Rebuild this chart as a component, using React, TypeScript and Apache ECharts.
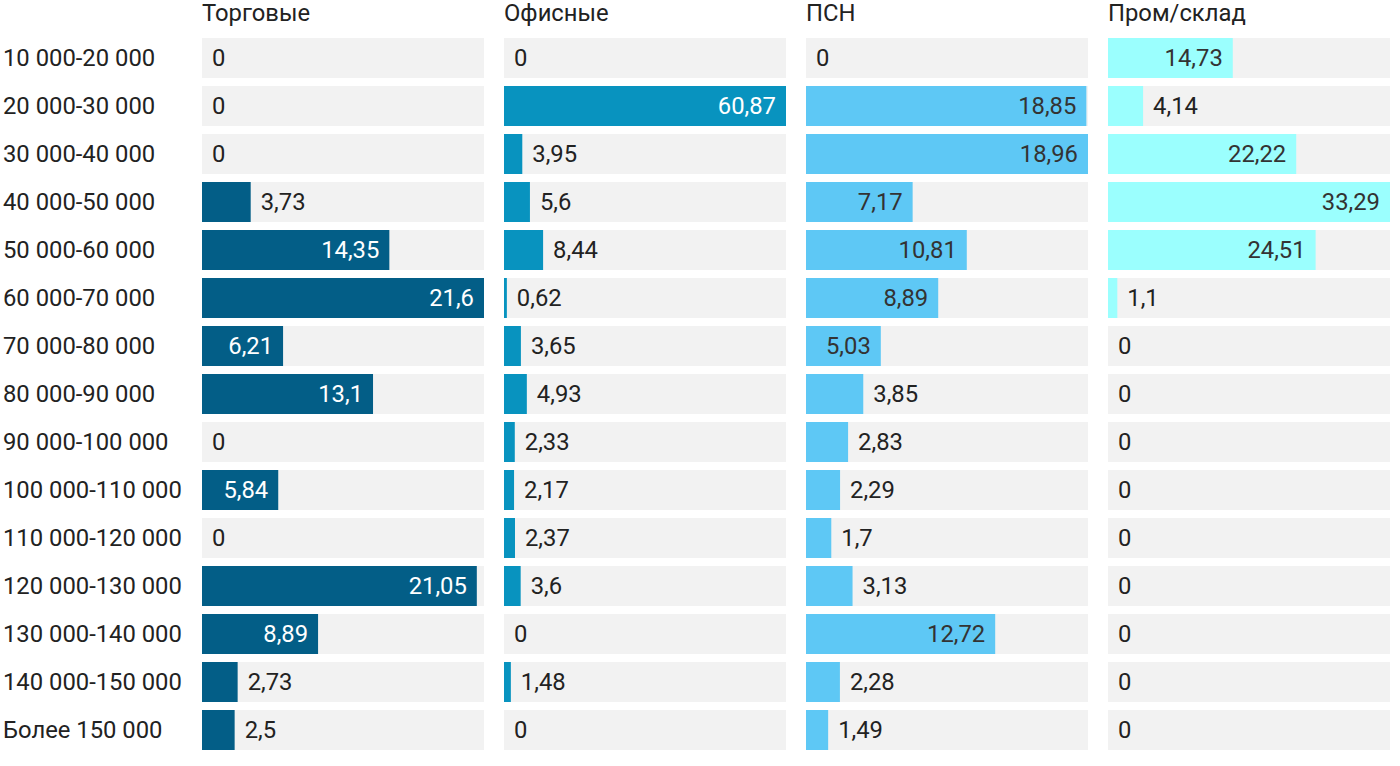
import React, { useEffect, useRef } from "react";
import * as echarts from "echarts";

const categories = [
  "10 000-20 000",
  "20 000-30 000",
  "30 000-40 000",
  "40 000-50 000",
  "50 000-60 000",
  "60 000-70 000",
  "70 000-80 000",
  "80 000-90 000",
  "90 000-100 000",
  "100 000-110 000",
  "110 000-120 000",
  "120 000-130 000",
  "130 000-140 000",
  "140 000-150 000",
  "Более 150 000",
];

const seriesNames = ["Торговые", "Офисные", "ПСН", "Пром/склад"];

const retail = [0, 0, 0, 3.73, 14.35, 21.6, 6.21, 13.1, 0, 5.84, 0, 21.05, 8.89, 2.73, 2.5];
const office = [0, 60.87, 3.95, 5.6, 8.44, 0.62, 3.65, 4.93, 2.33, 2.17, 2.37, 3.6, 0, 1.48, 0];
const psn = [0, 18.85, 18.96, 7.17, 10.81, 8.89, 5.03, 3.85, 2.83, 2.29, 1.7, 3.13, 12.72, 2.28, 1.49];
const industrial = [14.73, 4.14, 22.22, 33.29, 24.51, 1.1, 0, 0, 0, 0, 0, 0, 0, 0, 0];

const seriesValues = [retail, office, psn, industrial];
const colors = ["#035e87", "#0893bf", "#5ec8f5", "#9bfffe"];
const insideLabelColors = ["#ffffff", "#ffffff", "#333333", "#333333"];

const FONT = "Roboto";
const FS = 23.8;
const PANEL_LEFTS = [202, 504, 806, 1108];
const PANEL_W = 282;
const TOP = 34;
const ROW_H = 48;

const fmt = (v: number) => String(v).replace(".", ",");

export default function App() {
  const ref = useRef<HTMLDivElement>(null);
  useEffect(() => {
    if (!ref.current) return;
    const chart = echarts.init(ref.current, null, { renderer: "svg" });
    const height = ROW_H * categories.length;
    const grids = PANEL_LEFTS.map((l) => ({ left: l, top: TOP, width: PANEL_W, height }));
    const xAxes = seriesValues.map((vals, i) => ({
      type: "value",
      gridIndex: i,
      min: 0,
      max: Math.max(...vals),
      show: false,
    }));
    const yAxes = seriesValues.map((_, i) => ({
      type: "category",
      gridIndex: i,
      data: categories,
      inverse: true,
      axisLine: { show: false },
      axisTick: { show: false },
      splitLine: { show: false },
      axisLabel: {
        show: i === 0,
        align: "left",
        margin: 199,
        fontFamily: FONT,
        fontSize: FS,
        color: "#222222",
      },
    }));
    const series = seriesValues.map((vals, i) => {
      const max = Math.max(...vals);
      return {
        type: "bar",
        name: seriesNames[i],
        xAxisIndex: i,
        yAxisIndex: i,
        barWidth: 40,
        showBackground: true,
        backgroundStyle: { color: "#f2f2f2" },
        itemStyle: { color: colors[i] },
        data: vals.map((v) => {
          const px = (v / max) * PANEL_W;
          const inside = px > 65;
          return {
            value: v,
            label: {
              show: true,
              position: inside ? "insideRight" : "right",
              distance: inside ? 10 : 10,
              color: inside ? insideLabelColors[i] : "#222222",
              fontFamily: FONT,
              fontSize: FS,
              formatter: (p: any) => fmt(p.value),
            },
          };
        }),
      };
    });
    chart.setOption({
      animation: false,
      grid: grids,
      xAxis: xAxes,
      yAxis: yAxes,
      series,
      graphic: seriesNames.map((n, i) => ({
        type: "text",
        left: PANEL_LEFTS[i],
        top: 1,
        style: { text: n, fontFamily: FONT, fontSize: FS, fill: "#222222" },
      })),
    });
    return () => chart.dispose();
  }, []);
  return (
    <div
      ref={ref}
      style={{ position: "fixed", left: 0, top: 0, width: 1400, height: 766, background: "#fff" }}
    />
  );
}
